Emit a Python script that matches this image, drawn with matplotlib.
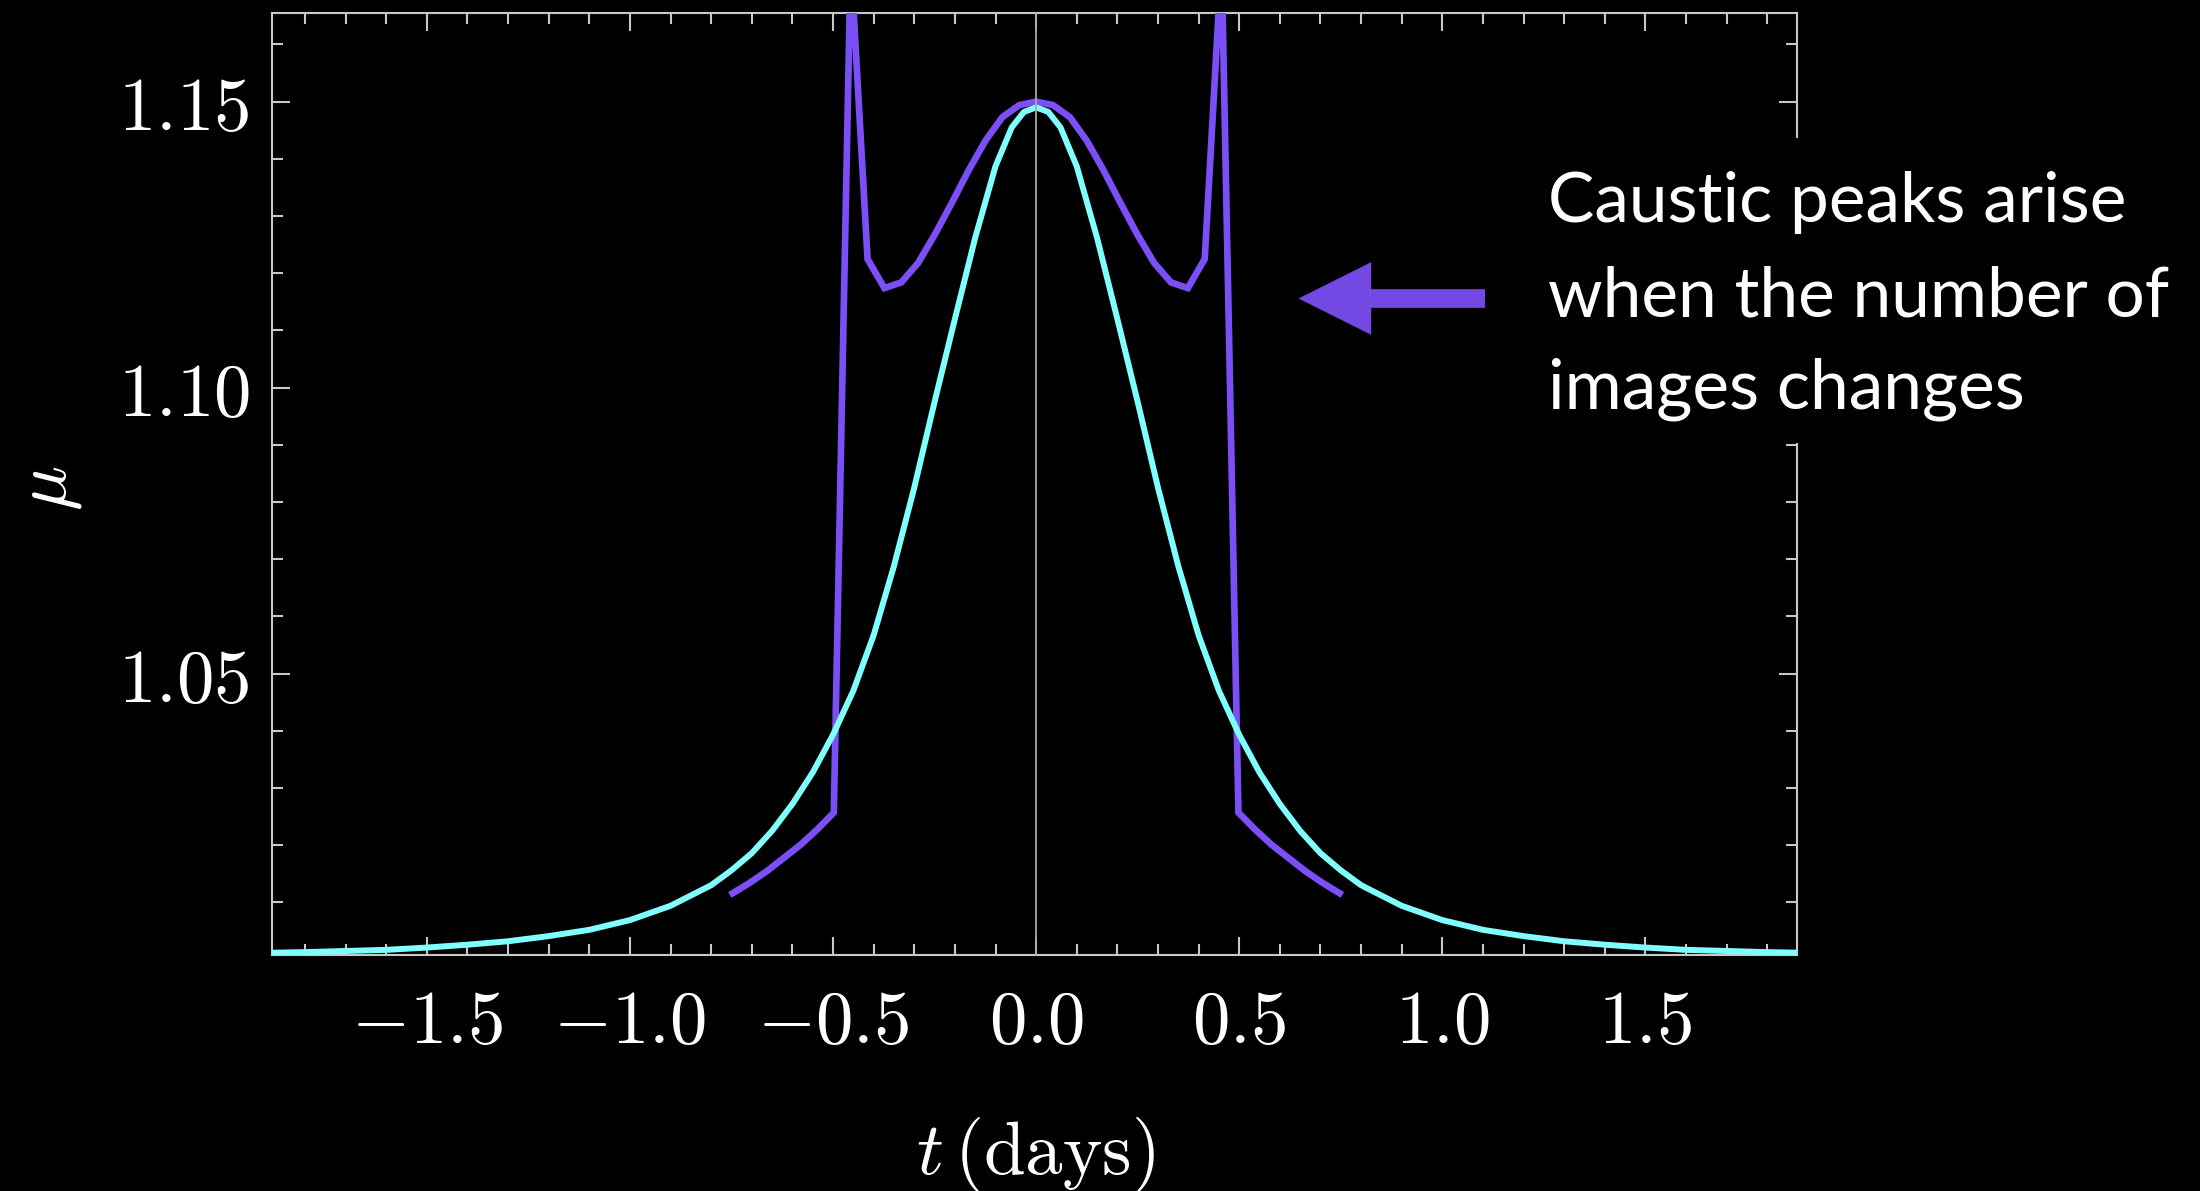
import matplotlib
matplotlib.use('Agg')
import matplotlib.pyplot as plt
from matplotlib.patches import FancyArrow, Rectangle
from matplotlib.ticker import MultipleLocator

plt.rcParams['mathtext.fontset'] = 'cm'

# smooth single-lens curve (cyan)
cyan_t = [-1.88, -1.8, -1.7, -1.6, -1.5, -1.4, -1.3, -1.2, -1.1, -1.0, -0.9, -0.8,
          -0.75, -0.7, -0.65, -0.6, -0.55, -0.5, -0.45, -0.4, -0.35, -0.3, -0.25,
          -0.2, -0.15, -0.1, -0.06, -0.03, 0.0, 0.03, 0.06, 0.1, 0.15, 0.2, 0.25,
          0.3, 0.35, 0.4, 0.45, 0.5, 0.55, 0.6, 0.65, 0.7, 0.75, 0.8, 0.9, 1.0,
          1.1, 1.2, 1.3, 1.4, 1.5, 1.6, 1.7, 1.8, 1.88]
cyan_mu = [1.0012, 1.0013, 1.0015, 1.0017, 1.0021, 1.0026, 1.0032, 1.0041, 1.0052,
           1.0069, 1.0094, 1.0130, 1.0156, 1.0186, 1.0225, 1.0272, 1.0327, 1.0393,
           1.0470, 1.0567, 1.0688, 1.0825, 1.0975, 1.1120, 1.1262, 1.1387, 1.1455,
           1.1482, 1.1490, 1.1482, 1.1455, 1.1387, 1.1262, 1.1120, 1.0975, 1.0825,
           1.0688, 1.0567, 1.0470, 1.0393, 1.0327, 1.0272, 1.0225, 1.0186, 1.0156,
           1.0130, 1.0094, 1.0069, 1.0052, 1.0041, 1.0032, 1.0026, 1.0021, 1.0017,
           1.0015, 1.0013, 1.0012]

# binary-lens curve (purple) with the caustic spikes
purple_t = [-0.747, -0.7055, -0.664, -0.6225, -0.581, -0.5395, -0.498, -0.4565,
            -0.415, -0.3735, -0.332, -0.2905, -0.249, -0.2075, -0.166, -0.1245,
            -0.083, -0.0415, 0.0, 0.0415, 0.083, 0.1245, 0.166, 0.2075, 0.249,
            0.2905, 0.332, 0.3735, 0.415, 0.4565, 0.498, 0.5395, 0.581, 0.6225,
            0.664, 0.7055, 0.747]
purple_mu = [1.0116, 1.0134, 1.0154, 1.0177, 1.0200, 1.0227, 1.0257, 1.1750,
             1.1225, 1.1174, 1.1184, 1.1218, 1.1268, 1.1323, 1.1380, 1.1432,
             1.1473, 1.1494, 1.1500, 1.1494, 1.1473, 1.1432, 1.1380, 1.1323,
             1.1268, 1.1218, 1.1184, 1.1174, 1.1225, 1.1750, 1.0257, 1.0227,
             1.0200, 1.0177, 1.0154, 1.0134, 1.0116]

xticks = [-1.5, -1.0, -0.5, 0.0, 0.5, 1.0, 1.5]
xtick_labels = [r'$-1.5$', r'$-1.0$', r'$-0.5$', r'$0.0$', r'$0.5$', r'$1.0$', r'$1.5$']
yticks = [1.05, 1.10, 1.15]
ytick_labels = [r'$1.05$', r'$1.10$', r'$1.15$']

note_lines = ['Caustic peaks arise', 'when the number of', 'images changes']

W, H = 2200, 1191
fig = plt.figure(figsize=(W / 100, H / 100), dpi=100, facecolor='black')
ax = fig.add_axes([272 / W, 1 - 955 / H, (1797 - 272) / W, (955 - 13) / H])
ax.set_facecolor('black')

ax.plot(purple_t, purple_mu, color='#7b4ff5', lw=4.8, solid_joinstyle='miter', zorder=3)
ax.plot(cyan_t, cyan_mu, color='#80ffff', lw=4.3, zorder=4)
ax.axvline(0, color='#a8a8a8', lw=1.3, zorder=6)

ax.set_xlim(-1.881, 1.873)
ax.set_ylim(1.0008, 1.1655)

ax.set_xticks(xticks, labels=xtick_labels)
ax.set_yticks(yticks, labels=ytick_labels)
ax.xaxis.set_minor_locator(MultipleLocator(0.1))
ax.yaxis.set_minor_locator(MultipleLocator(0.01))

spine_col = '#c8c8c8'
for sp in ax.spines.values():
    sp.set_color(spine_col)
    sp.set_linewidth(1.5)
ax.tick_params(which='both', direction='in', top=True, right=True,
               color=spine_col, width=1.5, labelcolor='white', labelsize=54)
ax.tick_params(which='major', length=13)
ax.tick_params(which='minor', length=8)
ax.tick_params(axis='x', pad=22)
ax.tick_params(axis='y', pad=16)

# axis labels
fig.text(1036 / W, 1 - 1174 / H, r'$t\,(\mathrm{days})$', color='white', fontsize=54,
         ha='center', va='baseline')
fig.text(48 / W, 1 - 488 / H, r'$\mu$', color='white', fontsize=54, rotation=90,
         ha='center', va='center')

# black panel behind the note hides part of the right frame
fig.add_artist(Rectangle((1530 / W, 1 - 443 / H), (W - 1530) / W, (443 - 138) / H,
                         transform=fig.transFigure, facecolor='black', edgecolor='none',
                         zorder=2))
for line, base in zip(note_lines, [221.7, 316.7, 408]):
    fig.text(1548 / W, 1 - base / H, line, color='white', fontsize=50, family='Lato',
             ha='left', va='baseline', zorder=3)

fig.add_artist(FancyArrow(1485 / W, 1 - 298.5 / H, -(1485 - 1298.5) / W, 0,
                          width=18.7 / H, head_width=72.7 / H, head_length=72.7 / W,
                          length_includes_head=True, transform=fig.transFigure,
                          facecolor='#7448e2', edgecolor='none', zorder=3))

fig.savefig('out.png', dpi=100, facecolor='black')
